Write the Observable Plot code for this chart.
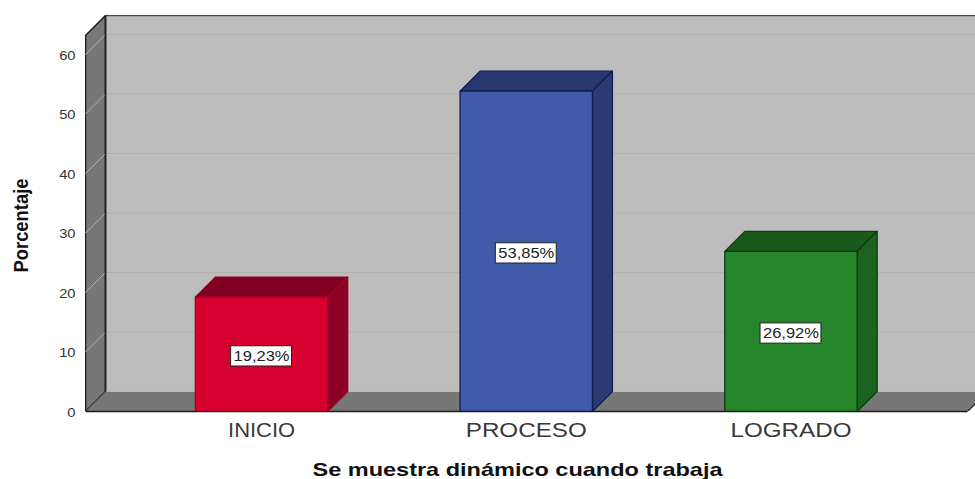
<!DOCTYPE html>
<html>
<head>
<meta charset="utf-8">
<script src="https://cdn.jsdelivr.net/npm/d3@7"></script>
<script src="https://cdn.jsdelivr.net/npm/@observablehq/plot@0.6"></script>
<style>
  html, body { margin: 0; padding: 0; background: #fff; }
  svg { display: block; }
</style>
</head>
<body>
<div id="chart"></div>
<script>
const categories = ["INICIO", "PROCESO", "LOGRADO"];
const values = [19.23, 53.85, 26.92];
const valueLabels = ["19,23%", "53,85%", "26,92%"];
const barColors = ["#d5002e", "#3f5ba9", "#27852c"];
const topColors = ["#7f0020", "#27376e", "#195a1b"];
const sideColors = ["#8d0026", "#2a3b73", "#1b631e"];
const edgeColors = ["#a00024", "#0e1c50", "#0c3a10"];
const yTicks = [0, 10, 20, 30, 40, 50, 60];
const axisTitleX = "Se muestra dinámico cuando trabaja";
const axisTitleY = "Porcentaje";

// Box geometry, in data units
const positions = categories.map((_, i) => i + 1);
const halfBar = 0.25;
const depthX = 0.0755;
const depthY = 3.36;
const floorLeft = 0.335;
const floorRight = 3.667;
const wallTop = 63.2;

const poly = (pts, fill, stroke, strokeWidth = 1.3) =>
  Plot.line([...pts, pts[0]], {
    x: d => d[0], y: d => d[1], fill, stroke, strokeWidth, clip: true
  });

const backLeft = floorLeft + depthX;
const backRight = floorRight + depthX;
const wallPeak = wallTop + depthY;

const marks = [
  Plot.rect([0], {x1: backLeft, x2: backRight + 1, y1: depthY, y2: wallPeak, fill: "#bdbdbd", clip: true}),
  Plot.link(yTicks.slice(1), {
    x1: backLeft, x2: backRight + 1,
    y1: d => d + depthY, y2: d => d + depthY,
    stroke: "#b1b1b1", strokeWidth: 1, clip: true
  }),
  poly([[floorLeft, 0], [backLeft, depthY], [backLeft, wallPeak], [floorLeft, wallTop]], "#777777", "#1c1c1c", 1.5),
  Plot.link(yTicks.slice(1), {
    x1: floorLeft, x2: backLeft,
    y1: d => d, y2: d => d + depthY,
    stroke: "#b0b0b0", strokeWidth: 1
  }),
  Plot.ruleY([wallPeak], {x1: backLeft, x2: backRight + 1, stroke: "#444444", strokeWidth: 1.5, clip: true}),
  poly([[floorLeft, 0], [backLeft, depthY], [backRight, depthY], [floorRight, 0]], "#777777", "none"),
  Plot.link([0], {x1: floorLeft, x2: floorRight, y1: 0, y2: 0, stroke: "#1c1c1c", strokeWidth: 1.5}),
  Plot.link([0], {x1: floorRight, x2: backRight, y1: 0, y2: depthY, stroke: "#1c1c1c", strokeWidth: 1.2, clip: true}),
  Plot.link([0], {x1: backLeft, x2: backLeft, y1: depthY, y2: wallPeak, stroke: "#1c1c1c", strokeWidth: 1.5})
];

values.forEach((v, i) => {
  const a = positions[i] - halfBar, b = positions[i] + halfBar;
  marks.push(
    poly([[a, v], [a + depthX, v + depthY], [b + depthX, v + depthY], [b, v]], topColors[i], edgeColors[i]),
    poly([[b, 0], [b + depthX, depthY], [b + depthX, v + depthY], [b, v]], sideColors[i], edgeColors[i]),
    poly([[a, 0], [a, v], [b, v], [b, 0]], barColors[i], edgeColors[i])
  );
});

const labelY = v => v / 2 - 0.35;
marks.push(
  Plot.rect(values, {
    x1: (_, i) => positions[i] - 0.115, x2: (_, i) => positions[i] + 0.115,
    y1: d => labelY(d) - 1.7, y2: d => labelY(d) + 1.7,
    fill: "#ffffff", stroke: "#222222", strokeWidth: 1
  }),
  Plot.text(values, {
    x: (_, i) => positions[i], y: labelY,
    text: (_, i) => valueLabels[i],
    fontSize: 14, fill: "#222222", fontFamily: "Liberation Sans", className: "vlabel"
  }),
  Plot.axisY({
    ticks: yTicks, tickSize: 0, tickPadding: 10, label: null, dy: 1,
    fontSize: 13, fill: "#333333", fontFamily: "Liberation Sans", className: "ytick"
  }),
  Plot.axisX({
    ticks: positions, tickFormat: d => categories[d - 1], tickSize: 0, tickPadding: 12,
    label: null, fontSize: 19.5, fill: "#3a3a3a", fontFamily: "Liberation Sans", className: "xtick"
  }),
  Plot.text([axisTitleX], {
    frameAnchor: "bottom", textAnchor: "middle", dx: -13, dy: 64, fontSize: 18.5, fontWeight: "bold",
    fill: "#111111", fontFamily: "Liberation Sans", className: "xtitle"
  }),
  Plot.text([axisTitleY], {
    frameAnchor: "left", textAnchor: "middle", rotate: -90, dx: -64, dy: 12, fontSize: 20, fontWeight: "bold",
    fill: "#111111", fontFamily: "Liberation Sans", className: "ytitle"
  })
);

const plot = Plot.plot({
  width: 975,
  height: 479,
  marginLeft: 85,
  marginRight: 0,
  marginTop: 15,
  marginBottom: 68,
  x: {type: "linear", domain: [floorLeft, 3.697]},
  y: {type: "linear", domain: [0, wallPeak]},
  style: {background: "#ffffff", overflow: "visible"},
  marks
});
document.getElementById("chart").append(plot);

// The reference's type is stretched: fit rendered text to its measured width
const fit = (selector, width) => {
  plot.querySelectorAll(selector).forEach((t, i) => {
    const w = typeof width === "function" ? width(t, i) : width;
    t.setAttribute("textLength", w);
    t.setAttribute("lengthAdjust", "spacingAndGlyphs");
  });
};
const xWidths = [67, 121, 121];
fit(".xtick text", (t, i) => xWidths[i]);
fit(".ytick text", t => t.getComputedTextLength() * 1.13);
fit(".vlabel text", 56);
fit(".xtitle text", 410);
fit(".ytitle text", 94);
</script>
</body>
</html>
